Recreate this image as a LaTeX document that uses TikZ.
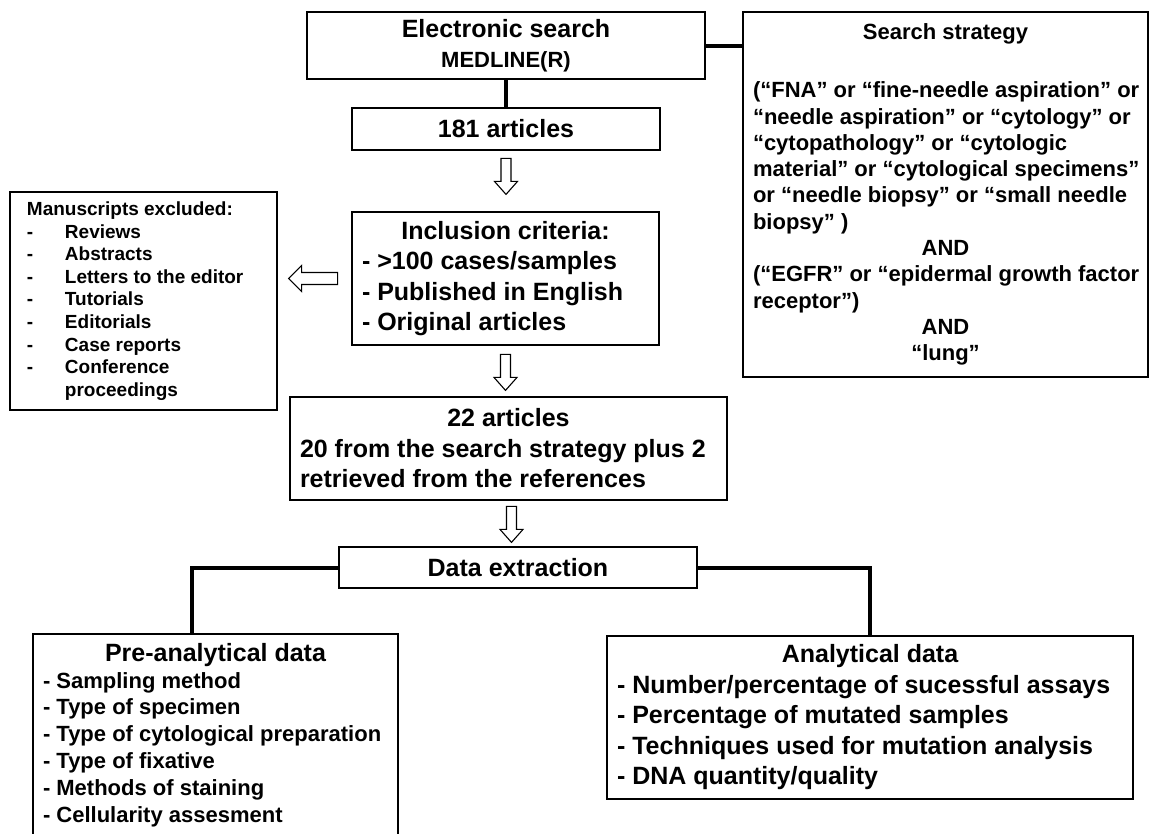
\documentclass[tikz,border=0pt]{standalone}
\usepackage{fontspec}
\setmainfont{Liberation Sans}
\usepackage{tikz}
\usetikzlibrary{calc}

\newcommand{\sizeL}{\fontsize{25}{30.5}\selectfont}
\newcommand{\sizeM}{\fontsize{22}{26.8}\selectfont}
\newcommand{\sizeQ}{\fontsize{22}{26.3}\selectfont}
\newcommand{\sizeS}{\fontsize{19}{22.6}\selectfont}

\tikzset{
  box/.style={draw, rectangle, line width=2.8pt, inner sep=0pt},
  link/.style={line width=4pt},
  downarr/.pic={\draw[line width=1.1pt] (-5,0) -- (-5,23) -- (-11.5,23) -- (0,36) -- (11.5,23) -- (5,23) -- (5,0) -- cycle;},
  leftarr/.pic={\draw[line width=1.1pt] (0,-6) -- (-36,-6) -- (-36,-13) -- (-49,0) -- (-36,13) -- (-36,6) -- (0,6) -- cycle;}
}

\begin{document}
\begin{tikzpicture}[x=1pt, y=-1pt, font=\bfseries]
    \useasboundingbox (0,0) rectangle (1151,833);
    \clip (0,0) rectangle (1151,833);

    \node[box, minimum width=398pt, minimum height=67pt, align=center, font=\bfseries\sizeL] (search) at (506,45.5) {Electronic search\\{\sizeM MEDLINE(R)}};
    \node[box, minimum width=308pt, minimum height=42pt, font=\bfseries\sizeL] (found) at (506,129) {181 articles};
    \node[box, minimum width=405pt, minimum height=365pt, align=center, font=\bfseries\sizeQ] (strat) at (945.5,194.5) {%
        Search strategy\\[32pt]
        \makebox[385pt][l]{(“FNA” or “fine-needle aspiration” or}\\
        \makebox[385pt][l]{“needle aspiration” or “cytology” or}\\
        \makebox[385pt][l]{“cytopathology” or “cytologic}\\
        \makebox[385pt][l]{material” or “cytological specimens”}\\
        \makebox[385pt][l]{or “needle biopsy” or “small needle}\\
        \makebox[385pt][l]{biopsy” )}\\
        AND\\
        \makebox[385pt][l]{(“EGFR” or “epidermal growth factor}\\
        \makebox[385pt][l]{receptor”)}\\
        AND\\
        “lung”};
    \node[box, minimum width=307pt, minimum height=133pt, align=left, font=\bfseries\sizeL] (incl) at (505.5,278.5) {%
        \makebox[287pt]{Inclusion criteria:}\\
        - >100 cases/samples\\
        - Published in English\\
        - Original articles};
    \node[box, minimum width=267pt, minimum height=218pt, align=left, font=\bfseries\sizeS] (excl) at (143.5,301) {%
        \makebox[233pt][l]{Manuscripts excluded:}\\
        \makebox[38pt][l]{-}Reviews\\
        \makebox[38pt][l]{-}Abstracts\\
        \makebox[38pt][l]{-}Letters to the editor\\
        \makebox[38pt][l]{-}Tutorials\\
        \makebox[38pt][l]{-}Editorials\\
        \makebox[38pt][l]{-}Case reports\\
        \makebox[38pt][l]{-}Conference\\
        \hspace*{38pt}proceedings};
    \node[box, minimum width=437pt, minimum height=103pt, align=left, font=\bfseries\sizeL] (selected) at (508.5,448.5) {%
        \makebox[417pt]{22 articles}\\
        20 from the search strategy plus 2\\
        retrieved from the references};
    \node[box, minimum width=358pt, minimum height=41pt, font=\bfseries\sizeL] (extract) at (518,567.5) {Data extraction};
    \node[box, minimum width=365pt, minimum height=202pt, align=left, font=\bfseries\sizeM] (pre) at (215.5,735) {%
        \makebox[345pt]{\sizeL Pre-analytical data}\\
        - Sampling method\\
        - Type of specimen\\
        - Type of cytological preparation\\
        - Type of fixative\\
        - Methods of staining\\
        - Cellularity assesment};
    \node[box, minimum width=526pt, minimum height=163pt, align=left, font=\bfseries\sizeL] (ana) at (870,717.5) {%
        \makebox[506pt]{Analytical data}\\
        - Number/percentage of sucessful assays\\
        - Percentage of mutated samples\\
        - Techniques used for mutation analysis\\
        - DNA quantity/quality};

    \draw[link] (search.south) -- (found.north);
    \draw[link] (search.east) -- (search.east -| strat.west);
    \draw[link] (extract.west) -| ([xshift=-23.5pt]pre.north);
    \draw[link] (extract.east) -| (ana.north);

    \pic at ($(found.south)+(0,7)$) {downarr};
    \pic at ($(incl.south)+(0,8)$) {downarr};
    \pic at ($(selected.south)+(3,5)$) {downarr};
    \pic at ($(incl.west)+(-13,0)$) {leftarr};
\end{tikzpicture}
\end{document}
